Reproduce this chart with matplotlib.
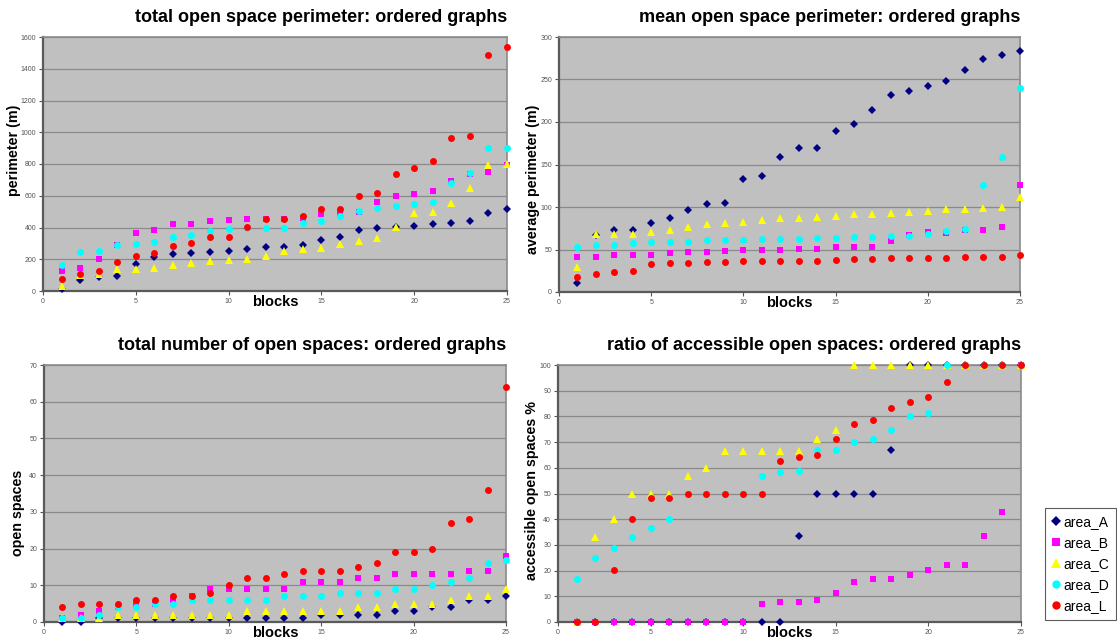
import matplotlib
matplotlib.use("Agg")
import matplotlib.pyplot as plt
from matplotlib.lines import Line2D

plt.rcParams["font.family"] = ["Liberation Sans", "DejaVu Sans"]

blocks = list(range(1, 26))
series_names = ["area_A", "area_B", "area_C", "area_D", "area_L"]

# total open space perimeter (m)
total_perim = {
    "area_A": [10, 69, 90, 96, 170, 216, 233, 239, 243, 252, 262, 275, 279,
               287, 321, 340, 382, 398, 405, 411, 419, 426, 440, 489, 514],
    "area_B": [128, 145, 201, 289, 365, 384, 421, 421, 442, 445, 451, 455, 455,
               461, 482, 489, 499, 562, 600, 610, 627, 694, 736, 747, 793],
    "area_C": [31, 98, 105, 136, 138, 145, 161, 176, 187, 193, 203, 222, 254,
               264, 268, 296, 312, 336, 405, 493, 499, 552, 650, 793, 803],
    "area_D": [164, 245, 254, 289, 298, 308, 340, 352, 375, 392, 396, 398, 398,
               430, 442, 474, 503, 520, 537, 547, 562, 680, 742, 898, 898],
    "area_L": [73, 107, 126, 182, 218, 239, 283, 304, 338, 342, 403, 451, 455,
               474, 514, 516, 596, 616, 740, 772, 818, 965, 979, 1489, 1537],
}

# mean open space perimeter (m)
mean_perim = {
    "area_A": [10.6, 67, 73, 73, 80.6, 86.8, 96.6, 103.6, 105.2, 133.4, 136.5,
               159.2, 169, 169.3, 189.3, 197.9, 214.7, 231.9, 237, 242.1, 248,
               260.9, 273.8, 278.9, 283.5],
    "area_B": [40.7, 41.5, 43, 43, 43.4, 46.1, 46.5, 46.5, 48.1, 48.9, 48.9,
               49.7, 50.5, 50.5, 52.4, 53.2, 53.2, 59.8, 67.3, 70.4, 70, 72.4,
               72.4, 76.7, 125.9],
    "area_C": [30, 68, 67.7, 68.8, 70.4, 73.1, 77, 79.8, 80.6, 82.5, 84.9, 86.8,
               87.6, 88.4, 89.6, 91.5, 92.3, 92.7, 94.6, 95.4, 97.4, 97.8, 99,
               99.7, 112.3],
    "area_D": [52.8, 55.5, 55.5, 57.1, 58.3, 59.4, 59.4, 60.6, 61, 61, 61.8,
               61.8, 62.2, 63, 63.4, 64.5, 64.9, 65.7, 66.1, 68, 71.6, 73.9,
               125.5, 159.2, 240.5],
    "area_L": [17.6, 20.7, 23.9, 24.6, 32.9, 33.6, 34, 35.2, 35.2, 36, 36, 36,
               36.8, 36.8, 37.5, 38.3, 38.7, 39.5, 39.5, 40.3, 40.3, 40.7, 41.1,
               41.5, 43],
}

# total number of open spaces
num_spaces = {
    "area_A": [0, 0, 1, 1, 1, 1, 1, 1, 1, 1, 1, 1, 1, 1, 2, 2, 2, 2, 3, 3, 4,
               4, 6, 6, 7],
    "area_B": [1, 2, 3, 4, 5, 5, 6, 7, 9, 9, 9, 9, 9, 11, 11, 11, 12, 12, 13,
               13, 13, 13, 14, 14, 18],
    "area_C": [1, 1, 1, 2, 2, 2, 2, 2, 2, 2, 3, 3, 3, 3, 3, 3, 4, 4, 5, 5, 5,
               6, 7, 7, 9],
    "area_D": [1, 1, 2, 4, 4, 5, 5, 6, 6, 6, 6, 6, 7, 7, 7, 8, 8, 8, 9, 9, 10,
               11, 12, 16, 17],
    "area_L": [4, 5, 5, 5, 6, 6, 7, 7, 8, 10, 12, 12, 13, 14, 14, 14, 15, 16,
               19, 19, 20, 27, 28, 36, 64],
}

# ratio of accessible open spaces (%)
ratio_access = {
    "area_A": [0, 0, 0, 0, 0, 0, 0, 0, 0, 0, 0, 0, 33.4, 50, 50, 50, 50, 66.8,
               100, 100, 100, 100, 100, 100, 100],
    "area_B": [0, 0, 0, 0, 0, 0, 0, 0, 0, 0, 7.1, 7.8, 7.8, 8.4, 11.2, 15.5,
               16.6, 16.6, 18.3, 20.1, 22.3, 22.3, 33.4, 42.9, 100],
    "area_C": [0, 33.2, 40, 50, 50, 50, 57, 60, 66.6, 66.6, 66.6, 66.6, 66.6,
               71.4, 74.9, 100, 100, 100, 100, 100, 100, 100, 100, 100, 100],
    "area_D": [16.8, 24.9, 28.6, 33.2, 36.4, 40, 50, 50, 50, 50, 57, 58.3,
               58.8, 66.9, 66.8, 70, 71.4, 74.9, 80.1, 81.3, 100, 100, 100,
               100, 100],
    "area_L": [0, 0, 20.1, 40, 48.2, 48.4, 50, 50, 50, 50, 50, 62.6, 64.3,
               65.1, 71.4, 76.9, 78.6, 83.4, 85.7, 87.5, 93.2, 100, 100, 100,
               100],
}

styles = {
    "area_A": dict(marker="D", color="#000080", ms=4.0),
    "area_B": dict(marker="s", color="#FF00FF", ms=5.0),
    "area_C": dict(marker="^", color="#FFFF00", ms=5.5),
    "area_D": dict(marker="o", color="#00FFFF", ms=5.0),
    "area_L": dict(marker="o", color="#FF0000", ms=5.0),
}

W, H = 1117, 640
fig = plt.figure(figsize=(W / 100, H / 100), dpi=100)
fig.patch.set_facecolor("white")


def make_panel(box, data, title, ylabel, ymax, ystep, ylab_pos):
    l, t, r, b = box
    ax = fig.add_axes([l / W, 1 - b / H, (r - l) / W, (b - t) / H])
    ax.set_facecolor("#C0C0C0")
    for name in series_names:
        st = styles[name]
        ax.plot(blocks, data[name], linestyle="none", marker=st["marker"],
                color=st["color"], markersize=st["ms"], markeredgewidth=0,
                clip_on=False, zorder=3)
    ax.set_xlim(0, 25)
    ax.set_ylim(0, ymax)
    ax.set_xticks(range(0, 26, 5))
    ax.set_yticks(range(0, ymax + 1, ystep))
    ax.yaxis.grid(True, color="#8a8a8a", linewidth=0.9)
    ax.set_axisbelow(True)
    ax.tick_params(axis="both", labelsize=5, colors="#555555", length=3,
                   width=0.8, pad=2)
    for side in ("top", "right"):
        ax.spines[side].set_color("#8a8a8a")
        ax.spines[side].set_linewidth(1.2)
    for side in ("left", "bottom"):
        ax.spines[side].set_color("#5a5a5a")
        ax.spines[side].set_linewidth(1.6)
    ax.set_title(title, loc="right", fontsize=13, fontweight="bold", pad=11)
    ax.set_xlabel("blocks", fontsize=10.5, fontweight="bold", va="top")
    ax.xaxis.set_label_coords(0.5, -0.014)
    ax.set_ylabel(ylabel, fontsize=10.3, fontweight="bold", va="center")
    ax.yaxis.set_label_coords(*ylab_pos)
    return ax


make_panel((43, 37, 507, 291), total_perim,
           "total open space perimeter: ordered graphs", "perimeter (m)",
           1600, 200, (-0.063, 0.555))
make_panel((559, 37, 1020, 292), mean_perim,
           "mean open space perimeter: ordered graphs", "average perimeter (m)",
           300, 50, (-0.057, 0.44))
make_panel((44, 365, 506, 622), num_spaces,
           "total number of open spaces: ordered graphs", "open spaces",
           70, 10, (-0.056, 0.424))
make_panel((558, 365, 1021, 622), ratio_access,
           "ratio of accessible open spaces: ordered graphs",
           "accessible open spaces %", 100, 10, (-0.057, 0.51))

handles = [Line2D([], [], linestyle="none", marker=styles[n]["marker"],
                  color=styles[n]["color"], markersize=styles[n]["ms"] + 1,
                  markeredgewidth=0) for n in series_names]
leg = fig.legend(handles, series_names, loc="upper left",
                 bbox_to_anchor=(1045 / W, 1 - 508 / H), frameon=True,
                 fancybox=False, fontsize=10, handlelength=0.6,
                 handletextpad=0.2, borderpad=0.5, labelspacing=0.5,
                 borderaxespad=0)
leg.get_frame().set_edgecolor("#333333")
leg.get_frame().set_linewidth(0.8)

fig.savefig("out.png", dpi=100)
